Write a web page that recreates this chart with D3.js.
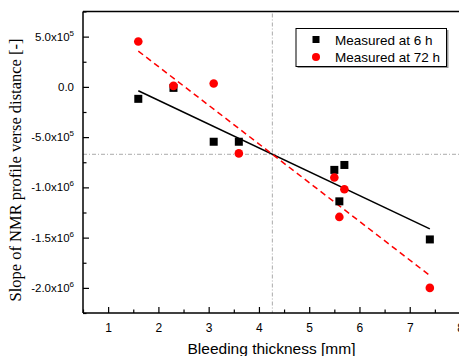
<!DOCTYPE html>
<html>
<head>
<meta charset="utf-8">
<script src="https://cdn.jsdelivr.net/npm/d3@7"></script>
<style>
  body { margin: 0; background: #fff; }
  svg { display: block; font-family: "Liberation Sans", Arial, sans-serif; }
</style>
</head>
<body>
<div id="chart"></div>
<script>
// Measured slopes
const x6h = [1.6, 2.3, 3.1, 3.6, 5.5, 5.7, 5.6, 7.4];
const y6h = [-1.19e5, -1.0e4, -5.46e5, -5.46e5, -8.26e5, -7.77e5, -1.139e6, -1.518e6];
const x72h = [1.6, 2.3, 3.1, 3.6, 5.5, 5.7, 5.6, 7.4];
const y72h = [4.52e5, 1.0e4, 3.4e4, -6.62e5, -9.02e5, -1.018e6, -1.294e6, -2.0e6];

// Linear fit end points
const fitX = [1.6, 7.4];
const fit6h = [-3.9e4, -1.413e6];
const fit72h = [3.56e5, -1.877e6];

const xTicks = [1, 2, 3, 4, 5, 6, 7, 8];
const yTicks = [5e5, 0, -5e5, -1e6, -1.5e6, -2e6];
const legendLabels = ['Measured at 6 h', 'Measured at 72 h'];

const width = 459;
const height = 356;
const margin = { left: 83, top: 11.5, right: -1, bottom: 43 };

const svg = d3.select('#chart')
    .append('svg')
    .attr('width', width)
    .attr('height', height);

const x = d3.scaleLinear().domain([0.5, 8]).range([margin.left, width - margin.right]);
const y = d3.scaleLinear().domain([-2.25e6, 7.5e5]).range([height - margin.bottom, margin.top]);

const plotBottom = height - margin.bottom;

// crosshair at intersection of the two fits
const s6 = (fit6h[1] - fit6h[0]) / (fitX[1] - fitX[0]);
const s72 = (fit72h[1] - fit72h[0]) / (fitX[1] - fitX[0]);
const cx = fitX[0] + (fit72h[0] - fit6h[0]) / (s6 - s72);
const cy = fit6h[0] + s6 * (cx - fitX[0]);

svg.append('line')
    .attr('x1', x(cx)).attr('x2', x(cx))
    .attr('y1', margin.top + 2).attr('y2', plotBottom)
    .attr('stroke', '#aaa').attr('stroke-width', 1)
    .attr('stroke-dasharray', '4,2,1,2');
svg.append('line')
    .attr('x1', margin.left).attr('x2', width)
    .attr('y1', y(cy)).attr('y2', y(cy))
    .attr('stroke', '#aaa').attr('stroke-width', 1)
    .attr('stroke-dasharray', '4,2,1,2');

// axes: ticks point inward
const xAxis = d3.axisBottom(x).tickValues(d3.range(0.5, 8.01, 0.5))
    .tickSize(-6).tickFormat(d => xTicks.includes(d) ? d : '');
const gx = svg.append('g')
    .attr('transform', `translate(0,${plotBottom})`)
    .call(xAxis);
gx.attr('font-family', null).attr('font-size', null);
gx.selectAll('.tick line')
    .attr('y2', d => Number.isInteger(d) ? -6 : -3.5)
    .attr('stroke-width', 1.2);
gx.selectAll('.tick text').attr('y', 10).style('font-size', '12px');
gx.select('.domain').attr('stroke-width', 1.5).attr('d', `M${margin.left},0H${width}`);

const yAxis = d3.axisLeft(y).tickValues(d3.range(-2.25e6, 7.6e5, 2.5e5))
    .tickSize(-6).tickFormat('');
const gy = svg.append('g')
    .attr('transform', `translate(${margin.left},0)`)
    .call(yAxis);
gy.selectAll('.tick line')
    .attr('x2', d => Math.abs(d % 5e5) < 1 ? 6 : 3.5)
    .attr('stroke-width', 1.2);
gy.select('.domain').attr('stroke-width', 1.5)
    .attr('d', `M0,${margin.top}V${plotBottom}`);

// y tick labels with superscript exponents
yTicks.forEach(v => {
    const t = svg.append('text')
        .attr('x', 74).attr('y', y(v) + 4)
        .attr('text-anchor', 'end')
        .style('font-size', '11.5px')
        .attr('fill', '#000');
    if (v === 0) {
        t.text('0.0');
    } else {
        const e = Math.floor(Math.log10(Math.abs(v)));
        const m = v / Math.pow(10, e);
        t.append('tspan').text(m.toFixed(1) + 'x10');
        t.append('tspan').attr('dy', -5).style('font-size', '8px').text(e);
    }
});

// top border
svg.append('line')
    .attr('x1', margin.left).attr('x2', width)
    .attr('y1', margin.top).attr('y2', margin.top)
    .attr('stroke', '#000').attr('stroke-width', 1.5);

// fit lines
const line = d3.line().x(d => x(d[0])).y(d => y(d[1]));
svg.append('path')
    .attr('d', line(fitX.map((v, i) => [v, fit6h[i]])))
    .attr('fill', 'none').attr('stroke', '#000').attr('stroke-width', 1.5);
svg.append('path')
    .attr('d', line(fitX.map((v, i) => [v, fit72h[i]])))
    .attr('fill', 'none').attr('stroke', '#ff0000').attr('stroke-width', 1.5)
    .attr('stroke-dasharray', '6,4');

// data points
svg.selectAll('.sq')
    .data(x6h.map((v, i) => [v, y6h[i]]))
    .join('rect')
    .attr('class', 'sq')
    .attr('x', d => x(d[0]) - 4).attr('y', d => y(d[1]) - 4)
    .attr('width', 8).attr('height', 8)
    .attr('fill', '#000');

svg.selectAll('.dot')
    .data(x72h.map((v, i) => [v, y72h[i]]))
    .join('circle')
    .attr('class', 'dot')
    .attr('cx', d => x(d[0])).attr('cy', d => y(d[1]))
    .attr('r', 4.3)
    .attr('fill', '#ff0000');

// legend
const lg = svg.append('g');
lg.append('rect')
    .attr('x', 297.5).attr('y', 30).attr('width', 151).attr('height', 38)
    .attr('fill', '#999');
lg.append('rect')
    .attr('x', 296).attr('y', 28.5).attr('width', 150.5).attr('height', 38)
    .attr('fill', '#fff').attr('stroke', '#000').attr('stroke-width', 1);
lg.append('rect')
    .attr('x', 312.5).attr('y', 36).attr('width', 7).attr('height', 7).attr('fill', '#000');
lg.append('circle')
    .attr('cx', 316).attr('cy', 57).attr('r', 4).attr('fill', '#ff0000');
legendLabels.forEach((s, i) => {
    lg.append('text')
        .attr('x', 335).attr('y', 44.5 + i * 17.5)
        .style('font-size', '13.5px')
        .text(s);
});

// axis titles
svg.append('text')
    .attr('x', (margin.left + 460) / 2).attr('y', 353.5)
    .attr('text-anchor', 'middle')
    .style('font-size', '15.5px')
    .text('Bleeding thickness [mm]');

svg.append('text')
    .attr('transform', `translate(20.5,170) rotate(-90)`)
    .attr('text-anchor', 'middle')
    .style('font-family', '"Liberation Serif", "Times New Roman", serif')
    .style('font-size', '16.5px')
    .text('Slope of NMR profile verse distance [-]');
</script>
</body>
</html>
